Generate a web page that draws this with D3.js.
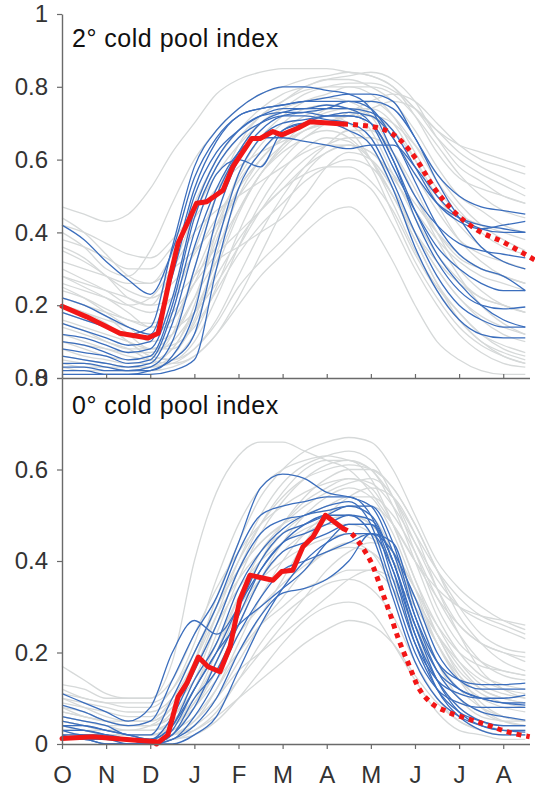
<!DOCTYPE html>
<html><head><meta charset="utf-8">
<script src="https://cdn.jsdelivr.net/npm/d3@7"></script>
<style>
html,body{margin:0;padding:0;background:#fff;}
svg{display:block;font-family:"Liberation Sans",Arial,Helvetica,sans-serif;}
</style></head>
<body>
<svg id="chart" width="535" height="787"></svg>
<script>
// ---------------- DATA ----------------
const monthLabels = ["O","N","D","J","F","M","A","M","J","J","A"];
// sample times, in months since 1 October
const tGrid = [0,0.5,1,1.5,2,2.5,3,3.5,4,4.5,5,5.5,6,6.5,7,7.5,8,8.5,9,9.5,10,10.5];

const topTicks = [0,0.2,0.4,0.6,0.8,1];
const bottomTicks = [0,0.2,0.4,0.6,0.8];
const topTitle = "2\u00B0 cold pool index";
const bottomTitle = "0\u00B0 cold pool index";

// --- 2° index: other years (gray) ---
const topGray = [
 [0.47,0.45,0.43,0.45,0.52,0.62,0.70,0.78,0.82,0.84,0.85,0.85,0.85,0.84,0.83,0.80,0.74,0.68,0.64,0.62,0.60,0.58],
 [0.40,0.36,0.30,0.28,0.35,0.48,0.60,0.68,0.74,0.78,0.80,0.82,0.83,0.84,0.83,0.80,0.72,0.62,0.55,0.52,0.50,0.48],
 [0.35,0.32,0.28,0.22,0.20,0.30,0.45,0.58,0.66,0.72,0.76,0.79,0.80,0.80,0.78,0.72,0.62,0.52,0.45,0.42,0.40,0.38],
 [0.30,0.27,0.24,0.20,0.18,0.22,0.35,0.50,0.62,0.70,0.74,0.76,0.77,0.76,0.72,0.62,0.50,0.40,0.33,0.30,0.28,0.26],
 [0.28,0.25,0.22,0.18,0.14,0.16,0.28,0.42,0.55,0.64,0.70,0.74,0.75,0.74,0.68,0.56,0.44,0.34,0.27,0.22,0.20,0.18],
 [0.25,0.22,0.18,0.14,0.10,0.12,0.22,0.38,0.52,0.60,0.66,0.70,0.72,0.70,0.64,0.52,0.40,0.30,0.22,0.17,0.14,0.12],
 [0.22,0.20,0.17,0.12,0.08,0.08,0.15,0.30,0.45,0.56,0.63,0.68,0.70,0.68,0.60,0.48,0.35,0.25,0.18,0.12,0.09,0.07],
 [0.20,0.18,0.15,0.10,0.06,0.05,0.10,0.22,0.36,0.48,0.57,0.63,0.66,0.65,0.58,0.45,0.32,0.22,0.14,0.09,0.06,0.04],
 [0.18,0.16,0.14,0.10,0.06,0.05,0.08,0.15,0.25,0.32,0.38,0.45,0.52,0.55,0.52,0.42,0.30,0.20,0.12,0.07,0.04,0.03],
 [0.15,0.13,0.10,0.08,0.05,0.04,0.06,0.12,0.20,0.28,0.34,0.40,0.45,0.47,0.42,0.32,0.20,0.10,0.05,0.02,0.01,0.01],
 [0.12,0.10,0.08,0.06,0.05,0.08,0.20,0.40,0.56,0.66,0.72,0.76,0.78,0.80,0.80,0.78,0.72,0.64,0.56,0.50,0.46,0.44],
 [0.10,0.08,0.06,0.05,0.06,0.12,0.30,0.50,0.64,0.72,0.76,0.80,0.82,0.83,0.84,0.82,0.76,0.66,0.58,0.54,0.50,0.48],
 [0.08,0.06,0.05,0.04,0.04,0.08,0.18,0.32,0.46,0.56,0.62,0.66,0.70,0.72,0.72,0.70,0.64,0.56,0.48,0.42,0.38,0.35],
 [0.06,0.05,0.04,0.03,0.03,0.05,0.12,0.25,0.40,0.52,0.60,0.66,0.68,0.66,0.60,0.50,0.40,0.32,0.26,0.22,0.20,0.18],
 [0.32,0.30,0.28,0.26,0.26,0.30,0.35,0.42,0.50,0.58,0.64,0.68,0.70,0.72,0.74,0.76,0.74,0.68,0.62,0.58,0.55,0.52],
 [0.38,0.36,0.33,0.30,0.30,0.36,0.44,0.52,0.58,0.62,0.65,0.68,0.70,0.73,0.76,0.78,0.76,0.70,0.64,0.60,0.58,0.56],
 [0.26,0.24,0.22,0.20,0.22,0.30,0.40,0.46,0.50,0.54,0.58,0.62,0.64,0.64,0.62,0.55,0.46,0.38,0.32,0.28,0.26,0.24],
 [0.24,0.22,0.19,0.16,0.15,0.18,0.26,0.34,0.40,0.46,0.52,0.58,0.62,0.64,0.62,0.56,0.48,0.40,0.34,0.30,0.28,0.26],
 [0.14,0.12,0.10,0.08,0.08,0.12,0.22,0.32,0.36,0.40,0.44,0.50,0.58,0.62,0.60,0.52,0.40,0.30,0.22,0.16,0.12,0.10],
 [0.04,0.03,0.03,0.02,0.02,0.03,0.06,0.12,0.22,0.34,0.46,0.56,0.62,0.64,0.60,0.50,0.38,0.26,0.18,0.12,0.08,0.06],
 [0.03,0.02,0.02,0.02,0.03,0.06,0.16,0.34,0.50,0.60,0.66,0.70,0.73,0.74,0.74,0.70,0.60,0.48,0.38,0.32,0.28,0.26],
 [0.44,0.40,0.34,0.28,0.26,0.34,0.48,0.60,0.68,0.74,0.78,0.80,0.82,0.82,0.80,0.76,0.68,0.58,0.50,0.46,0.42,0.40],
 [0.36,0.33,0.28,0.24,0.22,0.26,0.34,0.44,0.54,0.62,0.68,0.72,0.74,0.74,0.72,0.66,0.56,0.46,0.38,0.34,0.32,0.30],
 [0.20,0.18,0.16,0.14,0.12,0.16,0.26,0.40,0.52,0.60,0.66,0.70,0.72,0.73,0.72,0.68,0.60,0.50,0.42,0.36,0.32,0.30],
 [0.16,0.14,0.12,0.10,0.08,0.09,0.14,0.24,0.34,0.42,0.48,0.54,0.58,0.60,0.58,0.50,0.38,0.26,0.16,0.10,0.06,0.04],
 [0.10,0.09,0.08,0.07,0.07,0.10,0.18,0.28,0.38,0.46,0.52,0.56,0.58,0.58,0.54,0.46,0.34,0.24,0.16,0.10,0.07,0.05],
 [0.28,0.26,0.24,0.22,0.20,0.22,0.28,0.36,0.46,0.56,0.64,0.70,0.74,0.76,0.76,0.72,0.64,0.54,0.46,0.40,0.36,0.34],
 [0.05,0.04,0.03,0.03,0.03,0.04,0.08,0.16,0.28,0.40,0.50,0.58,0.64,0.68,0.68,0.62,0.50,0.38,0.28,0.20,0.15,0.12],
 [0.42,0.40,0.37,0.34,0.33,0.38,0.46,0.56,0.64,0.70,0.74,0.78,0.80,0.81,0.81,0.79,0.74,0.66,0.60,0.56,0.53,0.50],
 [0.22,0.20,0.18,0.16,0.14,0.14,0.18,0.26,0.36,0.46,0.54,0.60,0.64,0.66,0.66,0.62,0.52,0.40,0.30,0.24,0.20,0.18]
];

// --- 2° index: highlighted years (blue) ---
const topBlue = [
 [0.42,0.38,0.32,0.27,0.23,0.35,0.55,0.66,0.72,0.74,0.75,0.76,0.76,0.76,0.74,0.66,0.56,0.48,0.44,0.42,0.41,0.40],
 [0.22,0.20,0.17,0.14,0.12,0.30,0.52,0.65,0.72,0.74,0.75,0.76,0.77,0.78,0.78,0.76,0.66,0.56,0.50,0.47,0.46,0.45],
 [0.18,0.16,0.14,0.12,0.14,0.36,0.58,0.68,0.74,0.78,0.80,0.80,0.79,0.78,0.74,0.62,0.50,0.42,0.37,0.35,0.34,0.33],
 [0.15,0.13,0.11,0.09,0.10,0.28,0.50,0.62,0.68,0.72,0.74,0.74,0.75,0.74,0.70,0.58,0.46,0.36,0.30,0.26,0.24,0.24],
 [0.12,0.11,0.09,0.07,0.08,0.22,0.46,0.60,0.68,0.72,0.73,0.73,0.72,0.72,0.70,0.60,0.44,0.32,0.24,0.20,0.19,0.195],
 [0.10,0.09,0.07,0.05,0.06,0.20,0.44,0.58,0.66,0.70,0.72,0.72,0.71,0.70,0.66,0.54,0.40,0.28,0.20,0.16,0.14,0.14],
 [0.08,0.07,0.06,0.04,0.05,0.18,0.40,0.56,0.60,0.58,0.68,0.70,0.70,0.68,0.64,0.52,0.36,0.24,0.16,0.12,0.11,0.11],
 [0.06,0.05,0.04,0.03,0.04,0.15,0.36,0.52,0.62,0.66,0.66,0.65,0.64,0.63,0.64,0.64,0.58,0.50,0.44,0.41,0.40,0.40],
 [0.04,0.04,0.03,0.02,0.03,0.10,0.30,0.50,0.62,0.70,0.73,0.74,0.74,0.74,0.73,0.68,0.58,0.48,0.43,0.41,0.42,0.43],
 [0.03,0.03,0.02,0.02,0.02,0.06,0.18,0.44,0.60,0.68,0.72,0.73,0.74,0.76,0.76,0.74,0.66,0.54,0.44,0.36,0.32,0.30],
 [0.02,0.02,0.01,0.01,0.02,0.05,0.12,0.36,0.56,0.66,0.70,0.71,0.72,0.73,0.72,0.66,0.54,0.42,0.34,0.30,0.28,0.24],
 [0.01,0.01,0.01,0.01,0.01,0.02,0.05,0.30,0.52,0.62,0.68,0.70,0.72,0.72,0.70,0.60,0.46,0.34,0.26,0.20,0.16,0.14]
];

// --- 2° index: current year (red), observed then forecast ---
const topRedObsT = [0,0.56,1.31,1.95,2.18,2.45,2.63,3.05,3.28,3.65,3.87,4.30,4.49,4.78,4.98,5.35,5.62,6.37];
const topRedObsV = [0.197,0.168,0.123,0.11,0.123,0.278,0.37,0.48,0.484,0.516,0.58,0.658,0.658,0.677,0.668,0.687,0.704,0.698];
const topRedFcT = [6.37,7.21,7.66,8.04,8.41,8.86,9.40,9.99,10.45,10.72];
const topRedFcV = [0.698,0.686,0.654,0.599,0.526,0.46,0.407,0.374,0.343,0.324];

// --- 0° index: other years (gray) ---
const bottomGray = [
 [0.17,0.14,0.11,0.10,0.10,0.18,0.40,0.55,0.63,0.66,0.66,0.64,0.62,0.60,0.55,0.48,0.40,0.34,0.30,0.28,0.27,0.26],
 [0.10,0.08,0.06,0.05,0.05,0.08,0.18,0.32,0.44,0.54,0.60,0.64,0.66,0.67,0.66,0.60,0.50,0.40,0.34,0.30,0.27,0.25],
 [0.08,0.07,0.05,0.04,0.04,0.07,0.16,0.28,0.40,0.50,0.57,0.61,0.63,0.64,0.62,0.54,0.42,0.30,0.22,0.18,0.16,0.15],
 [0.06,0.05,0.04,0.03,0.03,0.05,0.12,0.24,0.36,0.46,0.53,0.58,0.61,0.62,0.60,0.52,0.40,0.28,0.20,0.15,0.13,0.12],
 [0.05,0.04,0.03,0.02,0.02,0.04,0.10,0.20,0.32,0.42,0.48,0.53,0.56,0.58,0.56,0.48,0.36,0.24,0.16,0.12,0.10,0.09],
 [0.04,0.03,0.02,0.02,0.02,0.03,0.08,0.16,0.26,0.36,0.44,0.50,0.54,0.56,0.54,0.46,0.34,0.22,0.14,0.10,0.08,0.07],
 [0.03,0.02,0.02,0.01,0.01,0.02,0.05,0.12,0.22,0.32,0.40,0.46,0.50,0.52,0.50,0.42,0.30,0.18,0.10,0.06,0.05,0.04],
 [0.02,0.02,0.01,0.01,0.01,0.02,0.04,0.10,0.18,0.26,0.32,0.38,0.42,0.44,0.42,0.34,0.24,0.14,0.08,0.05,0.03,0.03],
 [0.02,0.01,0.01,0.01,0.01,0.01,0.03,0.07,0.14,0.22,0.28,0.32,0.35,0.36,0.34,0.28,0.18,0.10,0.05,0.03,0.02,0.02],
 [0.01,0.01,0.01,0.00,0.00,0.01,0.02,0.05,0.10,0.16,0.22,0.27,0.30,0.31,0.29,0.22,0.14,0.07,0.03,0.02,0.01,0.01],
 [0.12,0.10,0.09,0.08,0.08,0.12,0.22,0.36,0.48,0.56,0.60,0.62,0.63,0.62,0.60,0.54,0.46,0.38,0.32,0.28,0.26,0.24],
 [0.07,0.06,0.05,0.04,0.05,0.10,0.20,0.30,0.38,0.44,0.48,0.52,0.55,0.57,0.58,0.54,0.44,0.34,0.26,0.22,0.20,0.19],
 [0.05,0.04,0.03,0.03,0.04,0.08,0.16,0.26,0.34,0.40,0.44,0.47,0.49,0.50,0.48,0.42,0.32,0.22,0.15,0.11,0.09,0.08],
 [0.03,0.03,0.02,0.02,0.02,0.04,0.09,0.16,0.24,0.30,0.35,0.39,0.42,0.43,0.42,0.36,0.26,0.16,0.10,0.07,0.05,0.05],
 [0.09,0.08,0.07,0.06,0.06,0.09,0.18,0.30,0.40,0.48,0.54,0.58,0.60,0.61,0.60,0.56,0.48,0.38,0.30,0.24,0.21,0.20],
 [0.04,0.04,0.03,0.03,0.03,0.05,0.10,0.18,0.28,0.36,0.42,0.46,0.48,0.48,0.46,0.40,0.32,0.24,0.17,0.12,0.10,0.09],
 [0.02,0.02,0.02,0.01,0.01,0.02,0.05,0.10,0.16,0.20,0.24,0.28,0.32,0.36,0.38,0.36,0.30,0.22,0.14,0.08,0.05,0.04],
 [0.06,0.05,0.04,0.04,0.04,0.06,0.14,0.26,0.38,0.48,0.55,0.60,0.62,0.62,0.58,0.48,0.36,0.26,0.18,0.13,0.11,0.10],
 [0.13,0.12,0.10,0.10,0.10,0.14,0.24,0.34,0.42,0.48,0.52,0.55,0.57,0.58,0.57,0.52,0.44,0.36,0.30,0.27,0.25,0.23],
 [0.01,0.01,0.01,0.01,0.01,0.02,0.04,0.08,0.14,0.20,0.26,0.32,0.38,0.42,0.44,0.42,0.34,0.24,0.15,0.09,0.06,0.05],
 [0.05,0.04,0.03,0.03,0.03,0.04,0.08,0.14,0.20,0.26,0.30,0.34,0.36,0.38,0.38,0.34,0.26,0.18,0.12,0.08,0.06,0.05],
 [0.08,0.06,0.05,0.04,0.04,0.06,0.12,0.22,0.32,0.40,0.46,0.50,0.52,0.54,0.54,0.50,0.42,0.32,0.24,0.18,0.15,0.14],
 [0.03,0.03,0.02,0.02,0.02,0.03,0.06,0.12,0.20,0.28,0.36,0.44,0.50,0.54,0.56,0.54,0.46,0.34,0.24,0.16,0.12,0.10],
 [0.10,0.09,0.08,0.07,0.07,0.10,0.18,0.28,0.36,0.42,0.46,0.48,0.50,0.50,0.48,0.42,0.34,0.26,0.20,0.17,0.16,0.15],
 [0.02,0.02,0.01,0.01,0.01,0.02,0.03,0.06,0.10,0.14,0.18,0.22,0.25,0.27,0.26,0.22,0.15,0.09,0.05,0.03,0.02,0.02],
 [0.07,0.06,0.05,0.05,0.05,0.08,0.14,0.22,0.30,0.36,0.40,0.43,0.45,0.46,0.45,0.40,0.32,0.24,0.18,0.14,0.12,0.11],
 [0.04,0.03,0.03,0.02,0.02,0.04,0.09,0.18,0.30,0.40,0.48,0.54,0.58,0.60,0.60,0.56,0.48,0.38,0.28,0.22,0.18,0.16],
 [0.11,0.10,0.09,0.09,0.09,0.12,0.20,0.30,0.38,0.44,0.48,0.50,0.51,0.52,0.52,0.48,0.40,0.32,0.26,0.22,0.20,0.18]
];

// --- 0° index: highlighted years (blue) ---
const bottomBlue = [
 [0.11,0.09,0.07,0.05,0.08,0.20,0.27,0.24,0.30,0.40,0.46,0.48,0.50,0.52,0.50,0.40,0.26,0.16,0.12,0.10,0.09,0.085],
 [0.085,0.07,0.05,0.04,0.05,0.14,0.24,0.32,0.44,0.56,0.59,0.58,0.55,0.54,0.52,0.42,0.28,0.18,0.14,0.13,0.13,0.133],
 [0.06,0.05,0.04,0.02,0.02,0.10,0.20,0.30,0.42,0.50,0.52,0.53,0.54,0.54,0.50,0.36,0.22,0.14,0.11,0.10,0.10,0.107],
 [0.05,0.04,0.03,0.02,0.01,0.06,0.16,0.26,0.38,0.46,0.49,0.50,0.52,0.53,0.48,0.34,0.20,0.12,0.09,0.08,0.08,0.08],
 [0.04,0.03,0.02,0.01,0.01,0.04,0.14,0.22,0.34,0.42,0.47,0.50,0.51,0.52,0.52,0.44,0.28,0.16,0.10,0.07,0.06,0.052],
 [0.03,0.02,0.02,0.01,0.00,0.03,0.12,0.20,0.30,0.38,0.44,0.48,0.50,0.50,0.46,0.32,0.18,0.10,0.06,0.04,0.03,0.026],
 [0.02,0.02,0.01,0.01,0.00,0.02,0.10,0.16,0.26,0.36,0.42,0.44,0.46,0.48,0.48,0.40,0.24,0.14,0.08,0.05,0.04,0.04],
 [0.02,0.01,0.01,0.00,0.00,0.01,0.06,0.14,0.24,0.32,0.38,0.40,0.42,0.44,0.46,0.38,0.24,0.12,0.06,0.03,0.02,0.02],
 [0.01,0.01,0.00,0.00,0.00,0.01,0.04,0.10,0.20,0.28,0.33,0.34,0.36,0.40,0.46,0.44,0.30,0.18,0.12,0.10,0.09,0.09],
 [0.01,0.01,0.00,0.00,0.00,0.00,0.02,0.06,0.16,0.26,0.34,0.40,0.44,0.46,0.46,0.42,0.32,0.20,0.14,0.12,0.12,0.12],
 [0.03,0.03,0.02,0.01,0.00,0.02,0.08,0.18,0.28,0.38,0.44,0.46,0.48,0.50,0.49,0.40,0.26,0.14,0.07,0.04,0.03,0.03],
 [0.04,0.04,0.03,0.02,0.01,0.04,0.12,0.20,0.26,0.30,0.34,0.38,0.44,0.48,0.48,0.38,0.22,0.12,0.07,0.05,0.04,0.04]
];

// --- 0° index: current year (red) ---
const bottomRedObsT = [0,0.7,1.61,2.14,2.14,2.40,2.63,2.83,3.09,3.31,3.58,3.81,4.03,4.26,4.78,4.98,5.23,5.46,5.69,5.97,6.37];
const bottomRedObsV = [0.012,0.016,0.009,0.005,0.0,0.02,0.103,0.133,0.19,0.169,0.158,0.213,0.315,0.369,0.358,0.377,0.38,0.431,0.453,0.5,0.471];
const bottomRedFcT = [6.37,6.56,6.82,7.05,7.24,7.43,7.62,7.85,8.07,8.34,8.72,9.17,9.63,10.08,10.6];
const bottomRedFcV = [0.471,0.46,0.428,0.388,0.337,0.286,0.231,0.176,0.125,0.092,0.071,0.056,0.042,0.027,0.016];

// ---------------- DRAWING ----------------
const svg = d3.select("#chart");
const x = d3.scaleLinear().domain([0, 10.72]).range([62, 535]);
const yTop = d3.scaleLinear().domain([0, 1]).range([378, 14]);
const yBot = d3.scaleLinear().domain([0, 0.8]).range([744, 378]);

const GRAY = "#d6d9d9", BLUE = "#3b6ebd", RED = "#f21616", AXIS = "#6a6a6a", TXT = "#333";

function panel(y, gray, blue, obsT, obsV, fcT, fcV) {
  const g = svg.append("g");
  const line = d3.line().x((d, i) => x(tGrid[i])).y(d => y(d)).curve(d3.curveMonotoneX);
  g.append("g").selectAll("path").data(gray).join("path")
    .attr("d", line).attr("fill", "none").attr("stroke", GRAY).attr("stroke-width", 1.3);
  g.append("g").selectAll("path").data(blue).join("path")
    .attr("d", line).attr("fill", "none").attr("stroke", BLUE).attr("stroke-width", 1.3);
  const rl = d3.line().x(d => x(d[0])).y(d => y(d[1]));
  g.append("path").attr("d", rl(obsT.map((t, i) => [t, obsV[i]])))
    .attr("fill", "none").attr("stroke", RED).attr("stroke-width", 5)
    .attr("stroke-linejoin", "round").attr("stroke-linecap", "round");
  g.append("path").attr("d", rl.curve(d3.curveMonotoneX)(fcT.map((t, i) => [t, fcV[i]])))
    .attr("fill", "none").attr("stroke", RED).attr("stroke-width", 5)
    .attr("stroke-dasharray", "5 5");
}

panel(yTop, topGray, topBlue, topRedObsT, topRedObsV, topRedFcT, topRedFcV);
panel(yBot, bottomGray, bottomBlue, bottomRedObsT, bottomRedObsV, bottomRedFcT, bottomRedFcV);

function styleAxis(sel) {
  sel.select(".domain").attr("stroke", AXIS).attr("stroke-width", 1.4);
  sel.selectAll(".tick line").attr("stroke", AXIS).attr("stroke-width", 1.2);
  sel.selectAll(".tick text").attr("fill", TXT).style("font-size", "24px")
    .style("font-family", "'Liberation Sans', Arial, sans-serif");
}
const fmt = d => (d === 0 || d === 1) ? String(d) : d.toFixed(1);

// left axes
svg.append("g").attr("transform", "translate(62,0)")
  .call(d3.axisLeft(yTop).tickValues(topTicks).tickFormat(fmt).tickSize(5).tickSizeOuter(0).tickPadding(9))
  .call(styleAxis);
svg.append("g").attr("transform", "translate(62,0)")
  .call(d3.axisLeft(yBot).tickValues(bottomTicks).tickFormat(fmt).tickSize(5).tickSizeOuter(0).tickPadding(9))
  .call(styleAxis);

// x axes: the axis line stops a little short of the right edge
const xAxisScale = x.copy().range([62, 535]).clamp(true);
svg.append("g").attr("transform", "translate(0,378)")
  .call(d3.axisBottom(x).tickValues(d3.range(11)).tickFormat("").tickSize(-4).tickSizeOuter(0))
  .call(styleAxis)
  .call(s => s.select(".domain").attr("d", "M62.5,0.5H530"));

svg.append("g").attr("transform", "translate(0,744)")
  .call(d3.axisBottom(x).tickValues(d3.range(11)).tickFormat(i => monthLabels[i]).tickSize(5).tickSizeOuter(0).tickPadding(17))
  .call(styleAxis)
  .call(s => s.select(".domain").attr("d", "M62.5,0.5H530"));

// titles
svg.append("text").attr("x", 72).attr("y", 47).text(topTitle)
  .attr("fill", "#111").style("font-size", "25px").style("letter-spacing", "0.5px");
svg.append("text").attr("x", 72).attr("y", 414).text(bottomTitle)
  .attr("fill", "#111").style("font-size", "25px").style("letter-spacing", "0.5px");
</script>
</body></html>
